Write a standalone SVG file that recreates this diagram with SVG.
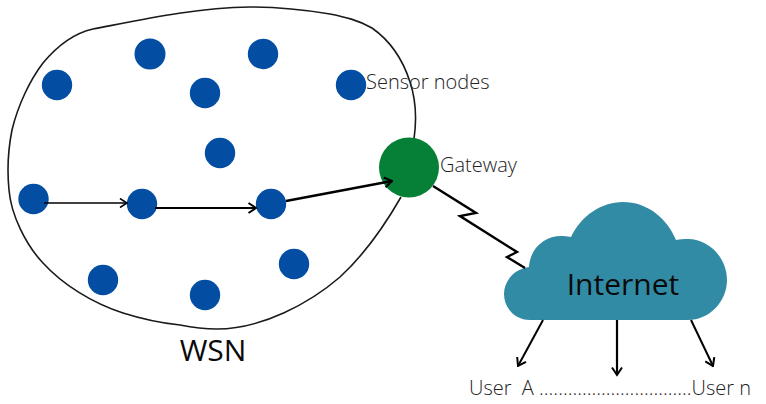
<svg xmlns="http://www.w3.org/2000/svg" width="766" height="404" viewBox="0 0 766 404">
<style>
.s{fill:#034ea2}
.t{font-family:"Open Sans","Noto Sans",sans-serif;fill:#222;font-weight:300;font-size:20px}
.c{fill:none;stroke:#000;stroke-linejoin:miter}
</style>
<defs>
<marker id="a" viewBox="0 0 10 10" refX="9" refY="5" markerWidth="10" markerHeight="10" markerUnits="userSpaceOnUse" orient="auto"><path d="M2 0.500L9 5L2 9.500" fill="none" stroke="#000" stroke-width="1.600"/></marker>
<marker id="b" viewBox="0 0 12 12" refX="10.500" refY="6" markerWidth="12" markerHeight="12" markerUnits="userSpaceOnUse" orient="auto"><path d="M3 1L10.500 6L3 11" fill="none" stroke="#000" stroke-width="2"/></marker>
</defs>
<rect width="766" height="404" fill="#fff"/>
<g id="wsn-boundary"><path d="M414 139C417 118 416 100 410 82C403 60 392 42 372 28C358 20 345 17 330 14C300 9 275 7 250 7C195 8 145 19 93 29C75 33 58 45 43 63C30 80 18 105 12 130C8 150 7 170 9 190C11 215 26 245 43 263C62 284 92 303 123 313C142 319 160 323 180 325C195 328 205 329 217 329C262 329 310 303 340 277C365 254 385 225 401 197" fill="none" stroke="#1a1a1a" stroke-width="1.600"/></g>
<g id="n1"><circle class="s" cx="57" cy="85" r="15.200"/></g>
<g id="n2"><circle class="s" cx="150" cy="54" r="15.500"/></g>
<g id="n3"><circle class="s" cx="263" cy="54" r="15.200"/></g>
<g id="n4"><circle class="s" cx="205" cy="93" r="15.200"/></g>
<g id="sensor-node"><circle class="s" cx="351" cy="85" r="15.200"/><text class="t" x="366" y="89">Sensor nodes</text></g>
<g id="n5"><circle class="s" cx="220" cy="153" r="15.200"/></g>
<g id="n6"><circle class="s" cx="33.500" cy="199" r="15.200"/></g>
<g id="n7"><circle class="s" cx="142" cy="204" r="15.200"/></g>
<g id="n8"><circle class="s" cx="271" cy="204" r="15.200"/></g>
<g id="n9"><circle class="s" cx="103" cy="280" r="15.200"/></g>
<g id="n10"><circle class="s" cx="205" cy="295" r="15.200"/></g>
<g id="n11"><circle class="s" cx="294" cy="264" r="15.200"/></g>
<g id="gateway"><circle cx="409" cy="167.500" r="30" fill="#068037"/><text class="t" x="440" y="172">Gateway</text></g>
<g id="internet"><path fill="#328ba5" d="M530 320C515 320 504 308 504 294C504 281 514 269 529 267C530 248 545 236 561 236C564 236 567 236 571 237C581 216 601 202 623 202C647 202 667 218 676 240C680 239 684 239 688 239C709 239 727 258 727 280C727 302 709 320 688 320Z"/><text x="623" y="295" font-family="'Open Sans','Noto Sans',sans-serif" font-size="30" text-anchor="middle" fill="#0a0a0a">Internet</text></g>
<g id="wsn-label"><text x="213" y="361" font-family="'Open Sans','Noto Sans',sans-serif" font-size="30" text-anchor="middle" fill="#0a0a0a">WSN</text></g>
<g id="users"><text class="t" x="469" y="395" xml:space="preserve">User  A ................................User n</text></g>
<g id="connectors">
<path class="c" stroke-width="1.500" d="M44 203H127" marker-end="url(#a)"/>
<path class="c" stroke-width="2" d="M155 208H256" marker-end="url(#b)"/>
<path class="c" stroke-width="2.400" d="M286 201L392 181" marker-end="url(#b)"/>
<path class="c" stroke-width="2.400" d="M433 186L476 213L460 216L517 252L507 257L525 268"/>
<path class="c" stroke-width="2" d="M543 320L518 366" marker-end="url(#b)"/>
<path class="c" stroke-width="2.200" d="M617 320V375" marker-end="url(#b)"/>
<path class="c" stroke-width="2" d="M691 320L713 366" marker-end="url(#b)"/>
</g>
</svg>
